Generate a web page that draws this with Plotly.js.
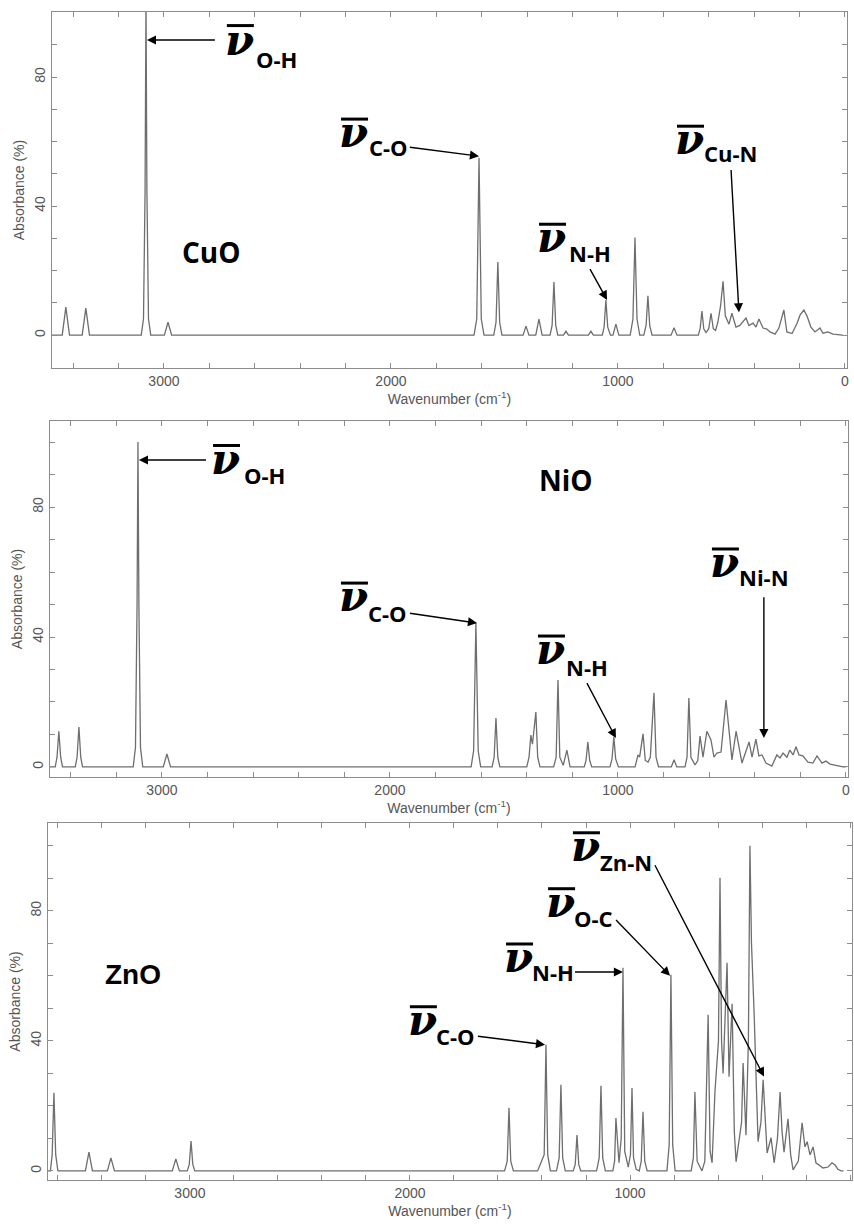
<!DOCTYPE html>
<html>
<head>
<meta charset="utf-8">
<script src="https://cdn.plot.ly/plotly-3.0.1.min.js"></script>
<style>html,body{margin:0;padding:0;background:#fff;}#plot{width:854px;height:1226px;}</style>
</head>
<body>
<div id="plot"></div>
<script>
// ---------- CuO spectrum (wavenumber cm-1, absorbance %) ----------
var cuoX = [3500,3448,3432,3416,3360,3344,3328,3100,3090,3083,3079,3075,3068,3058,2998,2982,2966,
  1634,1622,1612,1602,1590,1547,1537,1529,1521,1511,1418,1405,1392,1362,1348,1334,1299,1290,1282,1274,1265,
  1240,1229,1218,1130,1119,1108,1069,1061,1053,1045,1033,1022,1009,996,946,934,925,916,904,886,876,868,860,850,
  766,753,740,646,638,630,622,612,600,590,580,570,560,548,537,527,511,498,480,463,436,423,405,392,379,361,344,
  330,308,291,269,256,233,211,198,181,167,150,132,110,97,75,53,22,10];
var cuoY = [0,0,8.7,0,0,8.4,0,0,5,45,104,45,5,0,0,4,0,
  0,5,55,5,0,0,4,22.7,4,0,0,2.8,0,0,5,0,0,3,16.5,3,0,
  0,1.2,0,0,1.2,0,0,2.5,10.9,2.5,0,0,3.4,0,0,5,30.3,5,0,0,3,12.2,3,0,
  0,2.3,0,0,2,7.5,2,0.8,2,6.8,2,1.5,4,9,16.7,6,3.4,6.8,2.5,3,5.3,3,3.7,2.5,5,2.2,1.9,
  1,0.3,2.2,7.8,1,0.5,3.7,6.2,7.8,5.9,2.5,1,2.2,0.6,1,0.3,0,0];

// ---------- NiO spectrum ----------
var nioX = [3500,3468,3460,3452,3444,3436,3380,3372,3364,3356,3348,3126,3116,3109,3105,3101,3094,3084,2994,2978,2962,
  1644,1633,1623,1613,1602,1552,1543,1535,1527,1518,1400,1390,1382,1375,1360,1352,1342,1282,1271,1263,1255,1240,1224,1210,
  1148,1140,1132,1124,1115,1035,1026,1018,1010,998,925,912,905,890,880,868,858,842,833,822,766,754,742,
  706,697,689,680,662,650,640,627,610,592,579,566,548,526,500,482,456,425,412,395,382,368,351,325,303,289,276,
  259,246,232,219,206,189,167,145,127,105,88,70,39,13,0];
var nioY = [0,0,3,11,3,0,0,3,12.3,3,0,0,6,50,100,50,6,0,0,4,0,
  0,5,44.3,5,0,0,3,15.1,3,0,0,3,9.8,7,16.9,3,0,0,3,26.8,3,0.5,5.2,0,
  0,2,7.7,2,0,0,2.5,9.2,2.5,0,0,3.7,3,10.2,2,1.5,3,22.8,3,0,0,2.2,0,
  0,3,21.2,3,0.6,2,9.5,3,11,8.3,3,4.3,4.6,20.6,2.2,11,1.2,7.7,3,8.6,3.4,3.7,1.2,0.3,3.7,2.8,4.3,
  3,5.2,3.7,6.2,3.7,3.4,1.5,1.2,3.4,1.2,1.8,0.9,0.3,0,0];

// ---------- ZnO spectrum ----------
var znoX = [3645,3634,3626,3618,3610,3600,3475,3459,3443,3375,3359,3343,3080,3064,3048,3012,3003,2995,2987,2978,
  1570,1558,1550,1542,1530,1420,1405,1390,1382,1374,1362,1334,1322,1314,1306,1294,1258,1249,1241,1233,1224,
  1152,1140,1132,1124,1112,1078,1070,1064,1050,1040,1032,1024,1008,998,991,984,972,958,949,941,933,922,
  832,822,814,806,795,722,712,705,695,673,660,645,636,627,614,598,591,584,577,559,550,536,526,518,509,493,486,
  473,462,455,448,436,418,405,395,377,359,345,330,318,309,300,282,270,259,235,218,205,195,182,168,155,123,100,82,68,55,41,30];
var znoY = [0,0,5,24,5,0,0,5.8,0,0,4,0,0,3.7,0,0,2,9.2,2,0,
  0,3,19.4,3,0,0,2.5,5,38.8,5,0,0,4,26.5,4,0,0,2,11,2,0,
  0,4,26.2,4,0,0,3,16.3,2.5,10,62.5,6,1.2,5,25.5,4,0.5,0,3,18.2,3,0,
  0,8,60.3,8,0,0,4,24.3,3,0,3,48,6,2.5,24.3,40,90.2,40,30,64,29,51.4,12,2.8,7.4,15,33.2,
  11,40,100,70,48.6,9,15,28,5.5,10.2,2.5,10,24.3,12,5.8,16,5,0.3,3,14.8,7.4,9,4.9,7.4,2.5,0.9,1.2,2.5,1.8,0.5,0,0];

// ---------- axis tick / range values ----------
var xRanges = [[3493,-9],[3491,-9],[3645,-9]];
var yRanges = [[-10.2,100.2],[-3.1,106.5],[-2.8,107]];
var xDomains = [[0.0609,0.9918],[0.0585,0.993],[0.0562,0.9977]];
var yDomains = [[0.6998,0.9902],[0.3662,0.6566],[0.0375,0.3287]];

var gray = '#8c8c8c';
var tickFont = {family:'Liberation Sans, Arial, sans-serif', size:14, color:'#555'};

function xAxis(i){
  return {domain:xDomains[i], range:xRanges[i], anchor: i===0?'y':'y'+(i+1),
    showline:true, mirror:'ticks', linecolor:gray, linewidth:1.2,
    ticks:'inside', ticklen:5, tickcolor:gray, tickwidth:1, dtick:1000, tick0:0, tickformat:'d',
    minor:{dtick:200, tick0:0, ticks:'inside', ticklen:5, tickcolor:gray, tickwidth:1},
    showgrid:false, zeroline:false, tickfont:tickFont, automargin:false, fixedrange:true,
    title:{text:'Wavenumber (cm<sup>-1</sup>)', font:{family:'Liberation Sans, Arial, sans-serif', size:14, color:'#555'}, standoff:2}};
}
function yAxis(i){
  return {domain:yDomains[i], range:yRanges[i], anchor: i===0?'x':'x'+(i+1),
    showline:true, mirror:'ticks', linecolor:gray, linewidth:1.2,
    ticks:'inside', ticklen:5, tickcolor:gray, tickwidth:1, dtick:40, tick0:0, tickangle:-90,
    minor:{dtick:10, tick0:0, ticks:'inside', ticklen:5, tickcolor:gray, tickwidth:1},
    showgrid:false, zeroline:false, tickfont:tickFont, automargin:false, fixedrange:true,
    title:{text:'Absorbance (%)', font:{family:'Liberation Sans, Arial, sans-serif', size:14, color:'#555'}, standoff:4}};
}

var lineStyle = {color:'#6e6e6e', width:1.3};
var traces = [
  {x:cuoX, y:cuoY, xaxis:'x', yaxis:'y', type:'scatter', mode:'lines', line:lineStyle, hoverinfo:'skip'},
  {x:nioX, y:nioY, xaxis:'x2', yaxis:'y2', type:'scatter', mode:'lines', line:lineStyle, hoverinfo:'skip'},
  {x:znoX, y:znoY, xaxis:'x3', yaxis:'y3', type:'scatter', mode:'lines', line:lineStyle, hoverinfo:'skip'}
];

// ---------- bond labels ----------
// nu symbols: [panel, x (left), y, yanchor, arrow-head-x, arrow-head-y, start gap px]  (head null = no arrow)
var nuLabels = [
  [0, 2736, 91.5, 'middle', 3075, 91.5, 9],
  [0, 2233, 54.9, 'bottom', null, null, 0],
  [0, 1361, 22.3, 'bottom', null, null, 0],
  [0, 753, 52.7, 'bottom', null, null, 0],
  [1, 2789, 94.5, 'middle', 3101, 94.5, 4],
  [1, 2228, 44.6, 'bottom', null, null, 0],
  [1, 1364, 28.3, 'bottom', null, null, 0],
  [1, 601, 55.1, 'bottom', null, null, 0],
  [2, 2014, 38.5, 'bottom', null, null, 0],
  [2, 1577, 57.8, 'bottom', null, null, 0],
  [2, 1386, 74.8, 'bottom', null, null, 0],
  [2, 1273, 92, 'bottom', null, null, 0]
];
// subscripts: [panel, text, x, y, xanchor, yanchor, arrow-head-x, arrow-head-y, start gap px]
var subLabels = [
  [0, 'O-H', 2599, 85.6, 'left', 'middle', null, null, 0],
  [0, 'C-O', 1921, 58.3, 'right', 'middle', 1612, 55.5, 1],
  [0, 'N-H', 1123, 20.5, 'center', 'bottom', 1048, 10.9, 0],
  [0, 'Cu-N', 502, 51.5, 'center', 'bottom', 467, 7.1, 1],
  [1, 'O-H', 2645, 90, 'left', 'middle', null, null, 0],
  [1, 'C-O', 1921, 47.4, 'right', 'middle', 1618, 44.3, 2],
  [1, 'N-H', 1136, 25.8, 'center', 'bottom', 1009, 8.9, 0],
  [1, 'Ni-N', 360, 53.5, 'center', 'bottom', 360, 8.9, 4],
  [2, 'C-O', 1700, 41.5, 'right', 'middle', 1386, 38.8, 2],
  [2, 'N-H', 1250, 61.2, 'right', 'middle', 1032, 61.2, 0],
  [2, 'O-C', 1073, 77.8, 'right', 'middle', 818, 60, 3],
  [2, 'Zn-N', 895, 95.1, 'right', 'middle', 391, 29, 4]
];
// [panel, text, x, y, font]
var sampleLabels = [
  [0, 'CuO', 2930, 25.7, 'Open Sans, sans-serif'],
  [1, 'NiO', 1355, 88.3, 'Open Sans, sans-serif'],
  [2, 'ZnO', 3395, 60.3, 'Liberation Sans, Arial, sans-serif']
];

function refs(p){ return p===0 ? ['x','y'] : ['x'+(p+1),'y'+(p+1)]; }
var arrowStyle = {arrowhead:2, arrowsize:1.3, arrowwidth:1.4, arrowcolor:'#000', standoff:0};

function labelAnn(r, x, y, xanchor, yanchor, hx, hy, gap, text, font){
  var a = {xref:r[0], yref:r[1], text:text, xanchor:xanchor, yanchor:yanchor, borderpad:0, font:font};
  if(hx === null){
    a.x = x; a.y = y; a.showarrow = false;
  } else {
    a.x = hx; a.y = hy; a.ax = x; a.ay = y; a.axref = r[0]; a.ayref = r[1];
    a.showarrow = true; a.startstandoff = gap;
    for(var k in arrowStyle){ a[k] = arrowStyle[k]; }
  }
  return a;
}

var annotations = [];
var shapes = [];
var nuFont = {family:'DejaVu Serif, serif', size:42, color:'#000', weight:'bold', style:'italic'};
var subFont = {family:'Open Sans, sans-serif', size:22, color:'#000', weight:'bold'};
nuLabels.forEach(function(n){
  var r = refs(n[0]);
  annotations.push(labelAnn(r, n[1], n[2], 'left', n[3], n[4], n[5], n[6], '\u03BD', nuFont));
  // bar over the nu, anchored to the nu's position and sized in pixels
  var up = n[3] === 'bottom' ? 39 : 14.5;
  shapes.push({type:'line', xref:r[0], yref:r[1], xsizemode:'pixel', ysizemode:'pixel',
    xanchor:n[1], yanchor:n[2], x0:3, x1:30, y0:up, y1:up, line:{color:'#000', width:3}});
});
subLabels.forEach(function(s){
  var r = refs(s[0]);
  annotations.push(labelAnn(r, s[2], s[3], s[4], s[5], s[6], s[7], s[8], s[1], subFont));
});
sampleLabels.forEach(function(s){
  var r = refs(s[0]);
  annotations.push({xref:r[0], yref:r[1], x:s[2], y:s[3], text:s[1], showarrow:false,
    xanchor:'left', yanchor:'middle', font:{family:s[4], size:28, color:'#000', weight:'bold'}});
});

var layout = {
  width:854, height:1226, margin:{l:0,r:0,t:0,b:0}, showlegend:false,
  paper_bgcolor:'#fff', plot_bgcolor:'#fff',
  xaxis:xAxis(0), yaxis:yAxis(0), xaxis2:xAxis(1), yaxis2:yAxis(1), xaxis3:xAxis(2), yaxis3:yAxis(2),
  annotations:annotations, shapes:shapes
};
Plotly.newPlot('plot', traces, layout, {staticPlot:true, displayModeBar:false});
</script>
</body>
</html>
